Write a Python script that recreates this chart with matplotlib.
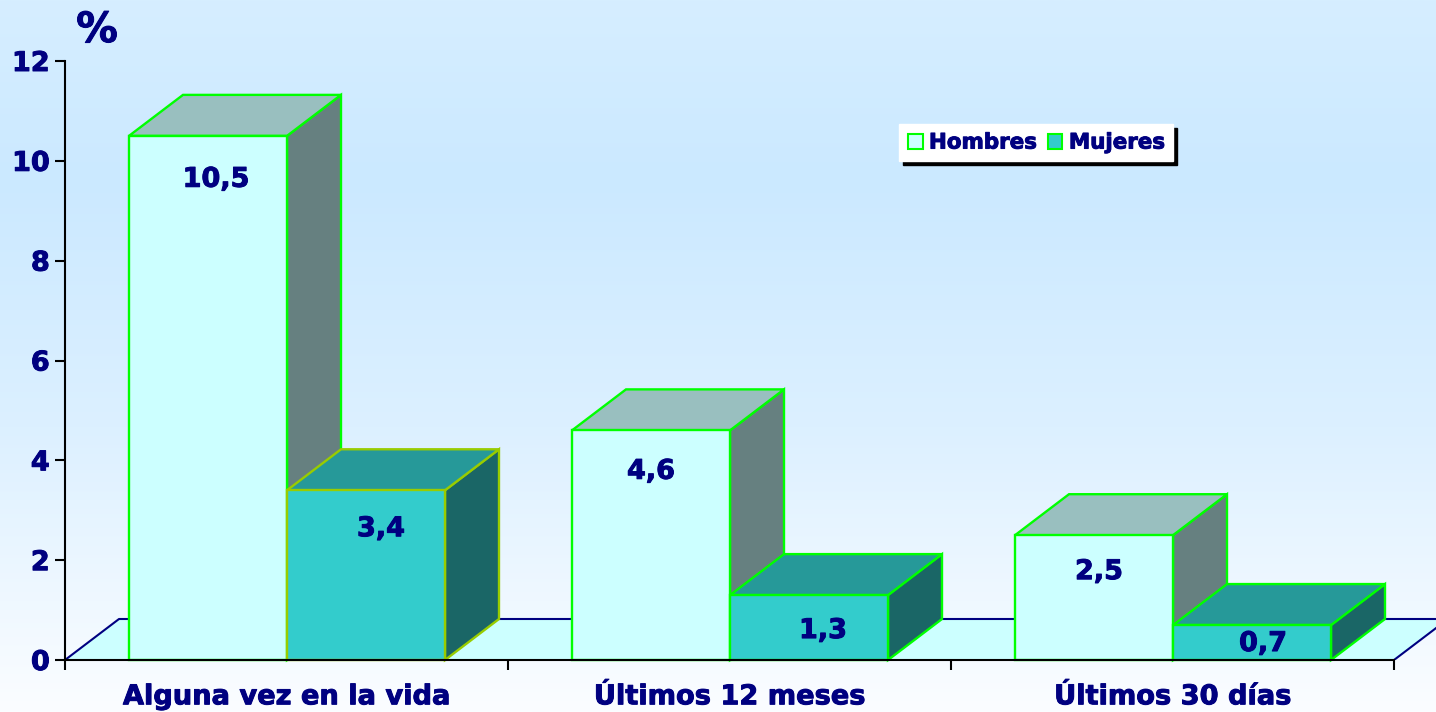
import numpy as np
import matplotlib
matplotlib.use("Agg")
from matplotlib import pyplot as plt
from matplotlib.patches import Patch, Polygon
from matplotlib import patheffects as pe

categorias = ["Alguna vez en la vida", "Últimos 12 meses", "Últimos 30 días"]
hombres = [10.5, 4.6, 2.5]
mujeres = [3.4, 1.3, 0.7]
etiquetas_h = ["10,5", "4,6", "2,5"]
etiquetas_m = ["3,4", "1,3", "0,7"]
yticks = [0, 2, 4, 6, 8, 10, 12]

W, H = 1436, 712
NAVY = "#000080"
VERDE = "#00FF00"
plt.rcParams["font.family"] = ["DejaVu Sans"]
plt.rcParams["font.weight"] = "bold"
grueso = [pe.withStroke(linewidth=0.7, foreground=NAVY)]

fig = plt.figure(figsize=(W / 100, H / 100), dpi=100)

# fondo degradado
bg = fig.add_axes([0, 0, 1, 1], zorder=0)
bg.axis("off")
t = np.linspace(0, 1, 256)
paradas = [0, 0.25, 0.6, 1]
rojo = np.interp(t, paradas, [0xD6, 0xCB, 0xDC, 0xFB]) / 255
verde = np.interp(t, paradas, [0xEE, 0xE9, 0xF0, 0xFD]) / 255
azul = np.full(256, 1.0)
bg.imshow(np.dstack([rojo, verde, azul]).reshape(256, 1, 3), aspect="auto", extent=[0, 1, 0, 1])

ax = fig.add_axes([65 / W, (H - 660) / H, (W - 65) / W, 599 / H], zorder=1)
ax.patch.set_alpha(0)
ax.set_xlim(0, (W - 65) / 443)
ax.set_ylim(0, 12)

dx = 54 / 443
dy = 41 / 599 * 12
ancho = 158 / 443
inicio = 64 / 443


def poly(pts, color, edge, z):
    ax.add_patch(Polygon(pts, closed=True, facecolor=color, edgecolor=edge,
                         linewidth=1.7, joinstyle="miter", zorder=z, clip_on=False))


def barra(x, v, frente, arriba, lado, edge, z):
    poly([(x + ancho, 0), (x + ancho + dx, dy), (x + ancho + dx, v + dy), (x + ancho, v)], lado, edge, z)
    poly([(x, v), (x + dx, v + dy), (x + ancho + dx, v + dy), (x + ancho, v)], arriba, edge, z)
    poly([(x, 0), (x, v), (x + ancho, v), (x + ancho, 0)], frente, edge, z)


# suelo
xfin = ax.get_xlim()[1]
yfin = dy * (xfin - 3) / dx
ax.add_patch(Polygon([(0, 0), (dx, dy), (xfin, dy), (xfin, yfin), (3, 0)], closed=True,
                     facecolor="#CCFFFF", edgecolor="none", zorder=1))
ax.plot([0, dx, xfin], [0, dy, dy], color=NAVY, lw=1.5, zorder=2)
ax.plot([3, xfin], [0, yfin], color=NAVY, lw=1.5, zorder=2)

# ajuste fino de cada etiqueta dentro de la barra
nudge_h = [(8, -0.88), (0, -0.83), (5, -0.74)]
nudge_m = [(15, -0.78), (14, -0.72), (11, -0.38)]

for i in range(3):
    x0 = i + inicio
    barra(x0, hombres[i], "#CCFFFF", "#99BFBF", "#668080", VERDE, 3 + i)
    borde = "#99CC00" if i == 0 else VERDE
    barra(x0 + ancho, mujeres[i], "#33CCCC", "#269999", "#1A6666", borde, 3.5 + i)
    ax.text(x0 + ancho / 2 + nudge_h[i][0] / 443, hombres[i] + nudge_h[i][1], etiquetas_h[i],
            color=NAVY, fontsize=19.5, fontweight="bold", ha="center", va="center", zorder=10,
            path_effects=grueso)
    ax.text(x0 + ancho * 1.5 + nudge_m[i][0] / 443, mujeres[i] + nudge_m[i][1], etiquetas_m[i],
            color=NAVY, fontsize=19.5, fontweight="bold", ha="center", va="center", zorder=10,
            path_effects=grueso)

for s in ["top", "right"]:
    ax.spines[s].set_visible(False)
ax.spines["left"].set_linewidth(1.5)
ax.spines["bottom"].set_linewidth(1.5)
ax.spines["bottom"].set_bounds(0, 3)
ax.spines["left"].set_zorder(12)
ax.spines["bottom"].set_zorder(12)

ax.set_yticks(yticks)
ax.set_yticklabels([str(v) for v in yticks], color=NAVY, fontsize=19.5, fontweight="bold",
                   path_effects=grueso)
ax.tick_params(axis="y", length=7, width=1.5, pad=4)
ax.set_xticks([0, 1, 2, 3])
ax.set_xticklabels([])
ax.set_xticks([0.5, 1.5, 2.5], minor=True)
ax.set_xticklabels(categorias, minor=True, color=NAVY, fontsize=19.6, fontweight="bold",
                   path_effects=grueso)
ax.tick_params(axis="x", which="major", length=7, width=1.5)
ax.tick_params(axis="x", which="minor", length=0, pad=17.5)

fig.text(97 / W, 1 - 30 / H, "%", color=NAVY, fontsize=30, fontweight="bold",
         ha="center", va="center", path_effects=grueso)

# leyenda
handles = [Patch(facecolor="#CCFFFF", edgecolor=VERDE, linewidth=1.5, label="Hombres"),
           Patch(facecolor="#33CCCC", edgecolor=VERDE, linewidth=1.5, label="Mujeres")]
ley = fig.legend(handles=handles, ncol=2, loc="upper left",
                 bbox_to_anchor=(899 / W, 1 - 124 / H), borderaxespad=0,
                 fancybox=False, framealpha=1, edgecolor="white", facecolor="white",
                 shadow={"color": "black", "alpha": 1, "ox": 2.9, "oy": -2.9},
                 labelcolor=NAVY, handlelength=0.7, handleheight=0.7,
                 handletextpad=0.3, columnspacing=0.5, borderpad=0.4,
                 prop={"weight": "bold", "size": 15.4})
for txt in ley.get_texts():
    txt.set_path_effects(grueso)
ley.set_zorder(20)

fig.savefig("out.png", dpi=100)
